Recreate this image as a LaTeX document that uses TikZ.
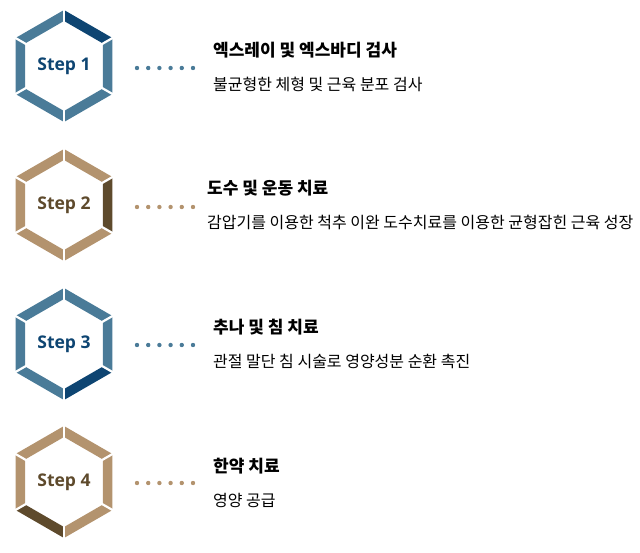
\documentclass[tikz,border=0pt]{standalone}
\usepackage{fontspec}
\setmainfont{Open Sans}
\newfontfamily\kr{Noto Sans CJK KR}
\usetikzlibrary{calc}
\definecolor{bl}{HTML}{4A7B98}
\definecolor{bld}{HTML}{0E4572}
\definecolor{br}{HTML}{B3936E}
\definecolor{brd}{HTML}{5E4A2C}
\begin{document}
\begin{tikzpicture}[x=1pt,y=-1pt,
  steptxt/.style={font=\bfseries\fontsize{17.5}{20}\selectfont},
  ttl/.style={anchor=west,inner sep=0pt,font=\kr\bfseries\fontsize{17}{20}\selectfont},
  sub/.style={anchor=west,inner sep=0pt,font=\kr\fontsize{16}{19}\selectfont}]
\useasboundingbox (0,0) rectangle (640,552);
\newcommand\hexring[5]{%
  \coordinate (#1) at (64,#2);
  \foreach \i in {0,...,5}{
    \pgfmathsetmacro\aa{90-60*\i}\pgfmathsetmacro\bb{30-60*\i}
    \pgfmathtruncatemacro\isd{\i==#5}
    \ifnum\isd=1 \def\cc{#4}\else\def\cc{#3}\fi
    \fill[\cc] ($(#1)+(\aa:56 and -56)$) -- ($(#1)+(\bb:56 and -56)$) -- ($(#1)+(\bb:45 and -45)$) -- ($(#1)+(\aa:45 and -45)$) -- cycle;
  }
  \foreach \i in {0,...,5}{
    \draw[white,line width=2.2pt] ($(#1)+(90-60*\i:42 and -42)$) -- ($(#1)+(90-60*\i:59 and -59)$);
  }
}
\hexring{h1}{66}{bl}{bld}{0}
\hexring{h2}{205}{br}{brd}{1}
\hexring{h3}{344}{bl}{bld}{2}
\hexring{h4}{482}{br}{brd}{3}
\node[steptxt,text=bld] (s1) at (64,66) {Step 1};
\node[steptxt,text=brd] (s2) at (64,205) {Step 2};
\node[steptxt,text=bld] (s3) at (64,344) {Step 3};
\node[steptxt,text=brd] (s4) at (64,482) {Step 4};
\foreach \y/\c in {68/bl,207/br,345/bl,483/br}{
  \foreach \x in {0,...,5}{\fill[\c] (137+\x*11.2,\y) circle (2.2);}
}
\node[ttl] (t1) at (213,50) {엑스레이 및 엑스바디 검사};
\node[sub] (d1) at (213,84) {불균형한 체형 및 근육 분포 검사};
\node[ttl] (t2) at (207,188) {도수 및 운동 치료};
\node[sub] (d2) at (207,222) {감압기를 이용한 척추 이완 도수치료를 이용한 균형잡힌 근육 성장};
\node[ttl] (t3) at (213,327) {추나 및 침 치료};
\node[sub] (d3) at (213,361) {관절 말단 침 시술로 영양성분 순환 촉진};
\node[ttl] (t4) at (213,466) {한약 치료};
\node[sub] (d4) at (213,500) {영양 공급};
\end{tikzpicture}
\end{document}
